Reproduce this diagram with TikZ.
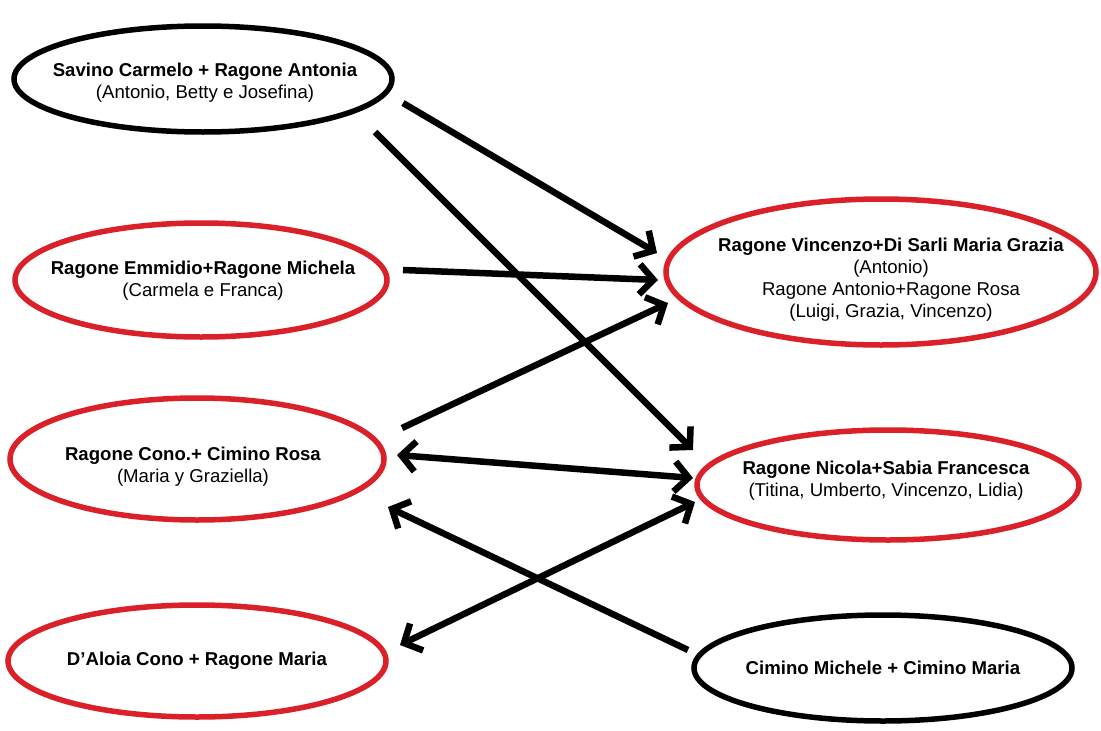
\documentclass[tikz,border=0pt]{standalone}
\usepackage{fontspec}
\setmainfont{Liberation Sans}
\usetikzlibrary{shapes.geometric,arrows.meta,calc}
\definecolor{famred}{RGB}{218,32,40}
\begin{document}
\begin{tikzpicture}[x=1pt,y=-1pt,
  fam/.style={ellipse,draw,line width=5.5pt,inner sep=0pt},
  redfam/.style={fam,draw=famred},
  blkfam/.style={fam,draw=black},
  txt/.style={align=center,inner sep=0pt,font=\fontsize{18.6}{22}\selectfont},
  tip/.style={Straight Barb[length=14pt,width=30pt]},
  link/.style={line width=6.5pt,-{Straight Barb[length=14pt,width=30pt]}},
  dlink/.style={line width=6.5pt,{Straight Barb[length=14pt,width=30pt]}-{Straight Barb[length=14pt,width=30pt]}}]
\useasboundingbox (0,0) rectangle (1101,731);
\node[blkfam,minimum width=378pt,minimum height=106pt] (sav) at (203,79) {};
\node[txt] (savt) at ($(sav)+(2,4)$)
  {\textbf{Savino Carmelo + Ragone Antonia}\\(Antonio, Betty e Josefina)};
\node[redfam,minimum width=372pt,minimum height=114pt] (emm) at (201,280) {};
\node[txt] (emmt) at ($(emm)+(2,1)$)
  {\textbf{Ragone Emmidio+Ragone Michela}\\(Carmela e Franca)};
\node[redfam,minimum width=374pt,minimum height=122pt] (con) at (197,459) {};
\node[txt] (cont) at ($(con)+(-4,8)$)
  {\textbf{Ragone Cono.+ Cimino Rosa}\\(Maria y Graziella)};
\node[redfam,minimum width=378pt,minimum height=112pt] (dal) at (197,661) {};
\node[txt] (dalt) at (dal)
  {\textbf{D’Aloia Cono + Ragone Maria}};
\node[redfam,minimum width=430pt,minimum height=146pt] (vin) at (881,272) {};
\node[txt] (vint) at ($(vin)+(10,8)$)
  {\textbf{Ragone Vincenzo+Di Sarli Maria Grazia}\\(Antonio)\\Ragone Antonio+Ragone Rosa\\(Luigi, Grazia, Vincenzo)};
\node[redfam,minimum width=382pt,minimum height=110pt] (nic) at (888,485) {};
\node[txt] (nict) at ($(nic)+(-2,-4)$)
  {\textbf{Ragone Nicola+Sabia Francesca}\\(Titina, Umberto, Vincenzo, Lidia)};
\node[blkfam,minimum width=378pt,minimum height=106pt] (cim) at (883,668) {};
\node[txt] (cimt) at (cim)
  {\textbf{Cimino Michele + Cimino Maria}};
\draw[link] ($(sav)+(200,24)$) -- ($(vin)+(-224,-19)$);
\draw[link] ($(sav)+(172,53)$) -- ($(nic)+(-195,-35)$);
\draw[link] ($(emm)+(202,-10)$) -- ($(vin)+(-223,8)$);
\draw[link] ($(con)+(205,-31)$) -- ($(vin)+(-213,31)$);
\draw[dlink] ($(con)+(200,-4)$) -- ($(nic)+(-195,-7)$);
\draw[link] ($(cim)+(-195,-18)$) -- ($(con)+(191,48)$);
\draw[dlink] ($(dal)+(203,-16)$) -- ($(nic)+(-193,17)$);
\end{tikzpicture}
\end{document}
